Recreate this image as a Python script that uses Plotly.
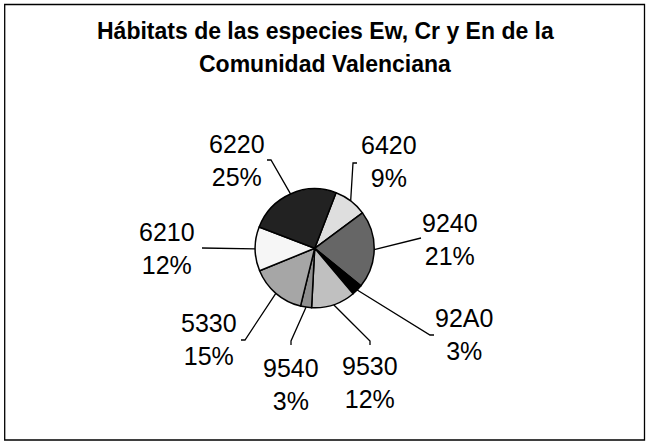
import math
import plotly.graph_objects as go

# ---- data ----
categories = ["6420", "9240", "92A0", "9530", "9540", "5330", "6210", "6220"]
percent = [9, 21, 3, 12, 3, 15, 12, 25]
title_lines = ["Hábitats de las especies Ew, Cr y En de la", "Comunidad Valenciana"]

# ---- layout / style ----
W, H = 650, 441
colors = ["#DEDEDE", "#666666", "#000000", "#C0C0C0", "#8F8F8F", "#A6A6A6", "#F6F6F6", "#222222"]
ROTATION = 21
CX, CY, R = 314.7, 248.3, 59.5
FONT = "Liberation Sans, Arial, sans-serif"
# label block centres and leader-line end points (pixels), plus small end ticks
LABEL_XY = [(389, 162), (450, 239), (464, 334), (370, 382), (291, 384), (209, 339), (167, 248), (237, 160)]
LINE_END = [(353, 163), (421, 238), (430, 335), (370, 341), (291, 341), (245, 340), (202, 248), (271, 160)]
TICK = [(4, 0), (0, 0), (4, 0), (0, 4), (0, 4), (-4, 0), (0, 0), (-4, 0)]


def px(x):
    return x / W


def py(y):
    return 1 - y / H


fig = go.Figure(go.Pie(
    labels=categories, values=percent, sort=False, direction="clockwise",
    rotation=ROTATION, textinfo="none", hoverinfo="label+percent",
    marker=dict(colors=colors, line=dict(color="#000000", width=1.5)),
    domain=dict(x=[px(CX - R), px(CX + R)], y=[py(CY + R), py(CY - R)]),
    showlegend=False,
))

total = sum(percent)
cum = 0
shapes = [dict(type="rect", xref="paper", yref="paper",
               x0=px(4.7), x1=px(644.5), y0=py(440), y1=py(4.5),
               line=dict(color="#000000", width=1.3))]
annotations = []
for i, (cat, v) in enumerate(zip(categories, percent)):
    mid = math.radians(ROTATION + (cum + v / 2) / total * 360)
    cum += v
    sx = CX + R * math.sin(mid)
    sy = CY - R * math.cos(mid)
    ex, ey = LINE_END[i]
    tx, ty = ex + TICK[i][0], ey + TICK[i][1]
    path = f"M {px(sx)} {py(sy)} L {px(ex)} {py(ey)} L {px(tx)} {py(ty)}"
    shapes.append(dict(type="path", xref="paper", yref="paper", path=path,
                       line=dict(color="#000000", width=1.3)))
    lx, ly = LABEL_XY[i]
    annotations.append(dict(x=px(lx), y=py(ly), xref="paper", yref="paper",
                            text=f"{cat}<br>{v}%", showarrow=False,
                            xanchor="center", yanchor="middle", align="center",
                            font=dict(family=FONT, size=25, color="#000000")))

for t, yy in zip(title_lines, [31.5, 64]):
    annotations.append(dict(x=0.5, y=py(yy), xref="paper", yref="paper", text=f"<b>{t}</b>",
                            showarrow=False, xanchor="center", yanchor="middle",
                            font=dict(family=FONT, size=23, color="#000000")))

fig.update_layout(
    width=W, height=H, margin=dict(l=0, r=0, t=0, b=0),
    paper_bgcolor="#FFFFFF", plot_bgcolor="#FFFFFF",
    shapes=shapes, annotations=annotations,
)

fig.write_html("out.html", config={"displayModeBar": False},
               post_script="document.body.style.margin='0';document.body.style.overflow='hidden';")
